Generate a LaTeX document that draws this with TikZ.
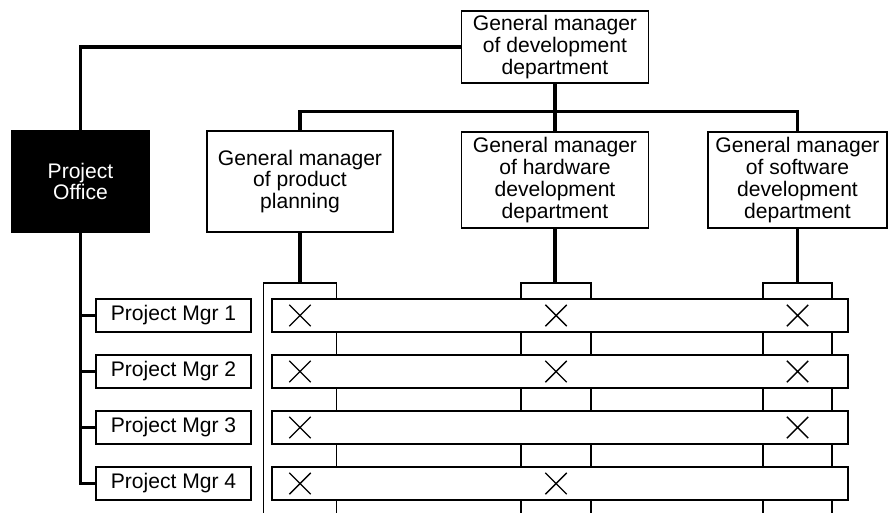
\documentclass[tikz,border=0pt]{standalone}
\usepackage{fontspec}
\setmainfont{Liberation Sans}
\usetikzlibrary{shapes.misc}
\begin{document}
\begin{tikzpicture}[x=0.02cm, y=-0.02cm,
  font=\fontsize{12}{12.4}\selectfont,
  box/.style={draw=black, line width=0.75pt, fill=white, align=center, inner sep=0pt},
  colbox/.style={draw=black, line width=0.75pt, fill=white, minimum height=4.94cm, inner sep=0pt},
  rowbox/.style={box, minimum width=11.52cm, minimum height=0.66cm},
  pmbox/.style={box, minimum width=3.1cm, minimum height=0.66cm},
  bus/.style={line width=2pt},
  xmark/.style={cross out, draw=black, line width=0.8pt, minimum size=0.4cm, inner sep=0pt}]
\useasboundingbox (0,0) rectangle (889,513);
% managers
\node [box, minimum width=3.74cm, minimum height=1.44cm] (gmdev) at (555,47)
  {General manager\\of development\\department};
\node [box, fill=black, text=white, minimum width=2.74cm, minimum height=2.02cm] (office) at (80.5,181.5)
  {Project\\Office};
\node [box, minimum width=3.72cm, minimum height=2.02cm] (gmplan) at (300,181.5)
  {General manager\\of product\\planning};
\node [box, minimum width=3.74cm, minimum height=1.92cm] (gmhw) at (555,180)
  {General manager\\of hardware\\development\\department};
\node [box, minimum width=3.58cm, minimum height=1.92cm] (gmsw) at (797.5,180)
  {General manager\\of software\\development\\department};
% columns, then project rows on top
\node [colbox, minimum width=1.46cm] (col1) at (300,406.5) {};
\node [colbox, minimum width=1.4cm] (col2) at (556,406.5) {};
\node [colbox, minimum width=1.38cm] (col3) at (797.5,406.5) {};
\foreach \i/\y in {1/315.5, 2/371.5, 3/427.5, 4/483.5} {
  \node [rowbox] (row\i) at (560,\y) {};
  \node [pmbox] (pm\i) at (173.5,\y) {Project Mgr \i};
}
% crosses
\foreach \r/\c in {1/1, 1/2, 1/3, 2/1, 2/2, 2/3, 3/1, 3/3, 4/1, 4/2}
  \node [xmark] (x\r\c) at (col\c |- row\r) {};
% lines
\draw [bus] (gmdev.west) -| (office.north);
\draw [bus] (gmdev.south) -- (gmhw.north);
\draw [bus] (gmplan.north) -- ++(0,-19) -| (gmsw.north);
\draw [bus] (gmplan.south) -- (col1.north);
\draw [bus] (gmhw.south) -- (gmhw.south |- col2.north);
\draw [bus] (gmsw.south) -- (col3.north);
\draw [bus] (office.south) |- (pm4.west);
\foreach \i in {1,2,3}
  \draw [bus] (office.south |- pm\i.west) -- (pm\i.west);
\end{tikzpicture}
\end{document}
